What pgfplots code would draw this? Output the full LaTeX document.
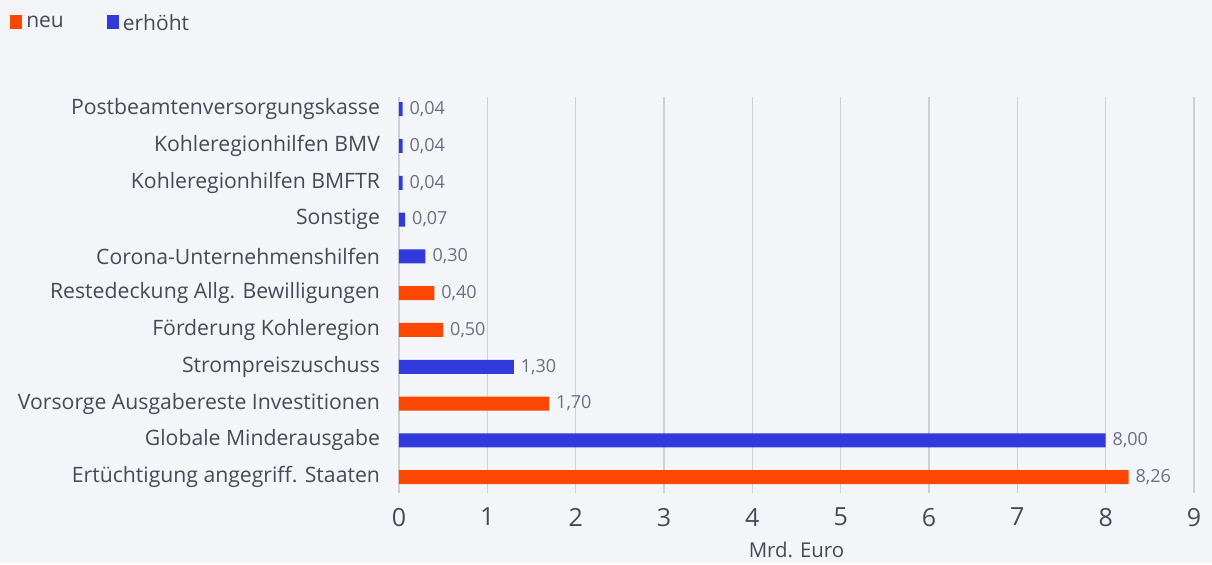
\documentclass[border=0pt]{standalone}
\usepackage{fontspec}
\setmainfont{Open Sans}
\usepackage{pgfplots}
\pgfplotsset{compat=1.18}
\usetikzlibrary{backgrounds}
\definecolor{bgc}{HTML}{F4F5F9}
\definecolor{neuc}{HTML}{FC4700}
\definecolor{erhc}{HTML}{333ADC}
\definecolor{gridc}{HTML}{CDD0D8}
\definecolor{txt}{HTML}{454A55}
\definecolor{lbl}{HTML}{6B7080}
\begin{document}
\begin{tikzpicture}
\begin{axis}[
  scale only axis,
  width=397.5pt, height=198pt,
  xbar, bar width=7pt, bar shift=0pt,
  xmin=0, xmax=9, ymin=-0.43, ymax=10.33,
  xtick={0,...,9},
  ytick={0,...,10},
  yticklabels={Ertüchtigung angegriff. Staaten, Globale Minderausgabe, Vorsorge Ausgabereste Investitionen, Strompreiszuschuss, Förderung Kohleregion, Restedeckung Allg. Bewilligungen, Corona-Unternehmenshilfen, Sonstige, Kohleregionhilfen BMFTR, Kohleregionhilfen BMV, Postbeamtenversorgungskasse},
  xmajorgrids, major grid style={gridc, line width=0.6pt},
  axis line style={draw=none},
  major tick length=0pt,
  tick style={draw=none},
  yticklabel style={font=\fontsize{10.6}{12}\selectfont, text=txt, xshift=-6pt},
  xticklabel style={font=\fontsize{12.5}{14}\selectfont, text=txt, yshift=-4pt},
  /pgf/number format/assume math mode=true,
  xlabel={Mrd. Euro},
  xlabel style={font=\fontsize{10.2}{12}\selectfont, text=txt, yshift=-1pt},
  nodes near coords,
  nodes near coords style={anchor=west, font=\fontsize{9}{10}\selectfont, text=lbl, /pgf/number format/.cd, use comma, fixed, fixed zerofill, precision=2},
  point meta=explicit,
  legend columns=2,
  legend style={at={(rel axis cs:-0.497,1.185)}, anchor=west, draw=none, fill=none,
    font=\fontsize{10.5}{12}\selectfont, text=txt,
    /tikz/every even column/.append style={column sep=19.5pt}},
  legend image code/.code={\fill[#1] (0pt,-2.8pt) rectangle (6pt,4.2pt);},
  clip=false,
]
\addplot[fill=neuc, draw=none] coordinates {(8.26,0)[8.26] (1.70,2)[1.70] (0.50,4)[0.50] (0.40,5)[0.40]};
\addlegendentry{neu}
\addplot[fill=erhc, draw=none] coordinates {(8.00,1)[8.00] (1.30,3)[1.30] (0.30,6)[0.30] (0.07,7)[0.07] (0.04,8)[0.04] (0.04,9)[0.04] (0.04,10)[0.04]};
\addlegendentry{erhöht}
\end{axis}
\begin{scope}[on background layer]
\fill[bgc] (-199.5pt,-35pt) rectangle (406.5pt,246.5pt);
\end{scope}
\useasboundingbox (-199.5pt,-35pt) rectangle (406.5pt,246.5pt);
\end{tikzpicture}
\end{document}
